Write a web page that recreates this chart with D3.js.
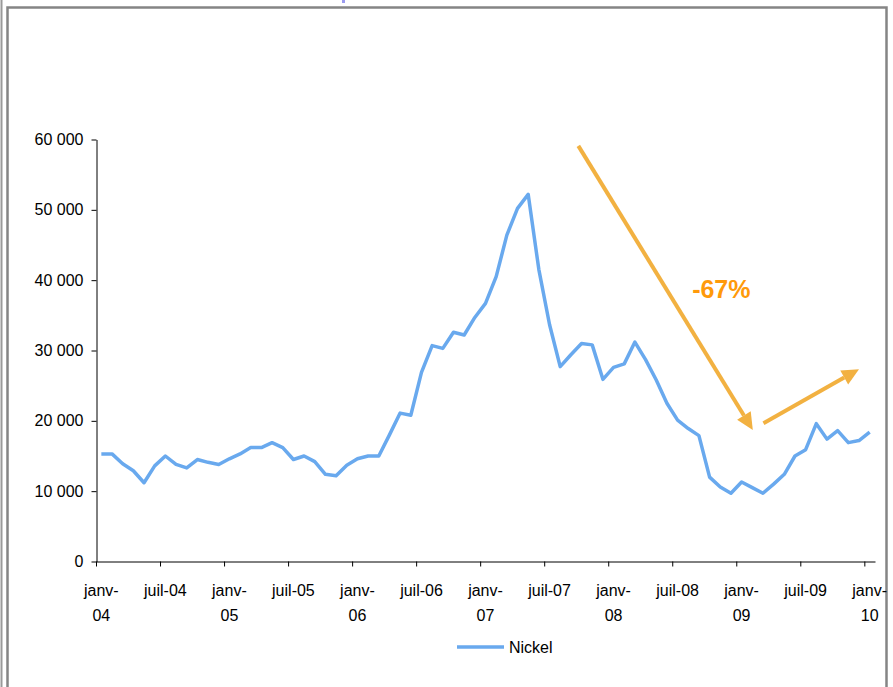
<!DOCTYPE html>
<html>
<head>
<meta charset="utf-8">
<script src="https://cdn.jsdelivr.net/npm/d3@7"></script>
<style>
  body { margin: 0; background: #fff; }
  svg { display: block; font-family: "Liberation Sans", Arial, sans-serif; }
</style>
</head>
<body>
<div id="chart"></div>
<script>
// monthly nickel prices, janv-04 .. janv-10
const monthNames = ["janv", "févr", "mars", "avr", "mai", "juin", "juil", "août", "sept", "oct", "nov", "déc"];
const years = ["04", "05", "06", "07", "08", "09", "10"];
const categories = [];
years.forEach(function(yy) {
  monthNames.forEach(function(m) { categories.push(m + "-" + yy); });
});
categories.length = 73;

const nickel = [
  15300, 15300, 13900, 12900, 11200, 13600, 15000, 13800, 13300, 14500, 14100, 13800,
  14600, 15300, 16200, 16200, 16900, 16200, 14500, 15000, 14200, 12400, 12200, 13700,
  14600, 15000, 15000, 18000, 21100, 20800, 26900, 30700, 30300, 32600, 32200, 34700,
  36700, 40500, 46400, 50200, 52200, 41500, 33700, 27700, 29400, 31000, 30800, 25900,
  27600, 28100, 31200, 28700, 25800, 22500, 20100, 18900, 17900, 12000, 10600, 9700,
  11300, 10500, 9700, 11000, 12400, 15000, 15900, 19600, 17400, 18600, 16900, 17200,
  18400
];

const yTicks = [0, 10000, 20000, 30000, 40000, 50000, 60000];
const seriesName = "Nickel";

// annotations in data units: [month index, value]
const dropArrow = [[44.7, 59100], [61.05, 18700]];
const reboundArrow = [[62.05, 19650], [71.0, 27350]];
const dropLabel = { text: "-67%", at: [58.1, 37450] };

const width = 893, height = 687;
const svg = d3.select("#chart").append("svg")
    .attr("width", width)
    .attr("height", height);

// frame
svg.append("line")
    .attr("x1", 1.5).attr("x2", 1.5).attr("y1", 0).attr("y2", height)
    .attr("stroke", "#9a9a9a").attr("stroke-width", 2);
svg.append("rect")
    .attr("x", 7.5).attr("y", 7.5)
    .attr("width", 879).attr("height", 700)
    .attr("fill", "none")
    .attr("stroke", "#858585").attr("stroke-width", 2.5);
svg.append("rect")
    .attr("x", 342).attr("y", 0).attr("width", 3).attr("height", 3)
    .attr("fill", "#9b9bf0");

// scales
const x = d3.scaleLinear()
    .domain([0, categories.length])
    .range([96, 875]);
const y = d3.scaleLinear()
    .domain([0, 60000])
    .range([561.5, 139.5]);
const cx = function(i) { return x(i + 0.5); };

// y axis
svg.append("g")
    .attr("transform", "translate(96.5,0)")
    .call(d3.axisLeft(y)
      .tickValues(yTicks)
      .tickSize(5)
      .tickSizeOuter(0)
      .tickPadding(8)
      .tickFormat(function(d) { return d3.format(",")(d).replace(/,/g, " "); }))
    .call(function(g) {
      g.selectAll("text").attr("font-size", 16).attr("fill", "#000")
        .attr("font-family", "Liberation Sans, Arial, sans-serif");
      g.selectAll("line").attr("stroke", "#000");
      g.select(".domain").attr("stroke", "#000");
    });

// x axis
const labelIdx = d3.range(0, categories.length, 6);
svg.append("g")
    .attr("transform", "translate(0,561.5)")
    .call(d3.axisBottom(x)
      .tickValues(labelIdx)
      .tickSize(5)
      .tickSizeOuter(0)
      .tickFormat(""))
    .call(function(g) {
      g.selectAll("line").attr("stroke", "#000");
      g.select(".domain").attr("stroke", "#000");
    });

const xl = svg.append("g")
    .attr("font-size", 16)
    .attr("text-anchor", "middle");
labelIdx.forEach(function(i) {
  const parts = categories[i].split("-");
  const t = xl.append("text").attr("x", cx(i)).attr("y", 596);
  if (parts[0] === "janv") {
    t.append("tspan").attr("x", cx(i)).attr("y", 596).text(parts[0] + "-");
    t.append("tspan").attr("x", cx(i)).attr("y", 621).text(parts[1]);
  } else {
    t.text(categories[i]);
  }
});

// series line
const line = d3.line()
    .x(function(d, i) { return cx(i); })
    .y(function(d) { return y(d); });
svg.append("path")
    .datum(nickel)
    .attr("d", line)
    .attr("fill", "none")
    .attr("stroke", "#69a9ee")
    .attr("stroke-width", 3.5)
    .attr("stroke-linejoin", "round");

// arrows
const arrowColor = "#f2b141";
function drawArrow(pts) {
  const x0 = cx(pts[0][0]), y0 = y(pts[0][1]);
  const x1 = cx(pts[1][0]), y1 = y(pts[1][1]);
  const ang = Math.atan2(y1 - y0, x1 - x0);
  const hl = 17, hw = 8;
  const bx = x1 - hl * Math.cos(ang), by = y1 - hl * Math.sin(ang);
  svg.append("line")
      .attr("x1", x0).attr("y1", y0).attr("x2", bx).attr("y2", by)
      .attr("stroke", arrowColor).attr("stroke-width", 4);
  const px = -Math.sin(ang) * hw, py = Math.cos(ang) * hw;
  svg.append("polygon")
      .attr("points", [[x1, y1], [bx + px, by + py], [bx - px, by - py]].map(function(p) { return p.join(","); }).join(" "))
      .attr("fill", arrowColor);
}
drawArrow(dropArrow);
drawArrow(reboundArrow);

svg.append("text")
    .attr("x", cx(dropLabel.at[0]))
    .attr("y", y(dropLabel.at[1]))
    .attr("text-anchor", "middle")
    .attr("font-size", 25)
    .attr("font-weight", "bold")
    .attr("fill", "#ff9a0a")
    .text(dropLabel.text);

// legend
const lg = svg.append("g").attr("transform", "translate(457,647)");
lg.append("line")
    .attr("x1", 0).attr("x2", 47)
    .attr("stroke", "#69a9ee").attr("stroke-width", 3.5);
lg.append("text")
    .attr("x", 52).attr("y", 5.5)
    .attr("font-size", 16)
    .text(seriesName);
</script>
</body>
</html>
